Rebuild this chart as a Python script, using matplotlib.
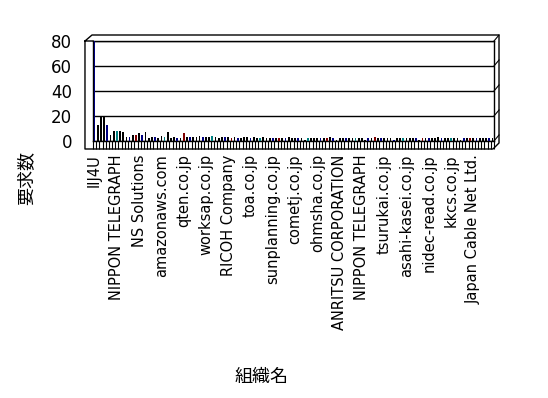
import matplotlib
matplotlib.use("Agg")
import matplotlib.pyplot as plt
import numpy as np

# requests per organisation (126 organisations, every 7th one labelled)
counts = [
    80, 13, 20, 20, 13, 5, 8, 8, 8, 7,
    3, 3, 5, 5, 6, 5, 7, 2, 3, 3,
    2, 4, 3, 7, 2, 3, 2, 2, 6, 3,
    3, 3, 3, 4, 3, 3, 3, 4, 3, 2,
    3, 3, 3, 2, 3, 2, 2, 3, 3, 2,
    3, 2, 2, 3, 2, 2, 2, 2, 2, 2,
    2, 3, 2, 2, 2, 2, 1, 2, 2, 2,
    2, 2, 2, 2, 3, 2, 1, 2, 2, 2,
    2, 2, 2, 2, 2, 1, 2, 2, 3, 2,
    2, 2, 2, 2, 1, 2, 2, 2, 2, 2,
    2, 2, 1, 2, 2, 2, 2, 2, 3, 2,
    2, 2, 2, 2, 2, 1, 2, 2, 2, 2,
    2, 2, 2, 2, 2, 2,
]
shown_labels = [
    "IIJ4U", "NIPPON TELEGRAPH", "NS Solutions", "amazonaws.com",
    "qten.co.jp", "worksap.co.jp", "RICOH Company", "toa.co.jp",
    "sunplanning.co.jp", "cometj.co.jp", "ohmsha.co.jp",
    "ANRITSU CORPORATION", "NIPPON TELEGRAPH", "tsurukai.co.jp",
    "asahi-kasei.co.jp", "nidec-read.co.jp", "kkcs.co.jp",
    "Japan Cable Net Ltd.",
]
label_step = 7
yticks = [0, 20, 40, 60, 80]

palette = ["#000080", "#000000", "#000000", "#000000", "#000080",
           "#000000", "#000000", "#008080", "#000000", "#000000",
           "#000000", "#000080", "#000000", "#800000", "#000000"]

n = len(counts)
x = np.arange(n)
colors = [palette[i % len(palette)] for i in range(n)]

fig = plt.figure(figsize=(5.48, 3.98), dpi=100)
ax = fig.add_axes([93 / 548, 1 - 141 / 398, 401 / 548, 100 / 398])

ax.bar(x, counts, width=0.55, color=colors, zorder=3)

ax.set_xlim(-0.5, n - 0.5)
ax.set_ylim(0, 80)
ax.set_yticks(yticks)
ax.set_yticklabels([str(v) for v in yticks], fontsize=12)
ax.tick_params(axis="y", length=0, pad=15)
ax.set_xticks(x[::label_step])
ax.set_xticklabels(shown_labels, rotation=90, fontsize=10.5, va="top")
ax.tick_params(axis="x", which="major", length=0, pad=9.5)
ax.set_xticks(np.arange(n + 1) - 0.5, minor=True)
ax.tick_params(axis="x", which="minor", length=5.8, width=0.8, direction="out")
ax.grid(axis="y", color="black", linewidth=1, zorder=1)
for s in ax.spines.values():
    s.set_linewidth(1)

# 3D-style outer frame
frame = [(-0.02, 1.0), (-0.02, -0.08), (0.9975, -0.08), (1.0125, -0.02),
         (1.0125, 1.06), (-0.0025, 1.06), (-0.02, 1.0), (0.0, 1.0)]
fx, fy = zip(*frame)
ax.plot(fx, fy, transform=ax.transAxes, color="black", lw=1, clip_on=False)
for v in yticks:
    yf = v / 80
    ax.plot([1.0, 1.0125], [yf, yf + 0.06], transform=ax.transAxes,
            color="black", lw=0.8, clip_on=False)

fig.text(0.047, 1 - 178 / 398, "要求数", rotation=90, ha="center", va="center",
         fontsize=13, family=["Noto Sans CJK JP", "DejaVu Sans"])
fig.text(262 / 548, 1 - 377 / 398, "組織名", ha="center", va="center",
         fontsize=13, family=["Noto Sans CJK JP", "DejaVu Sans"])

fig.savefig("out.png", dpi=100)
